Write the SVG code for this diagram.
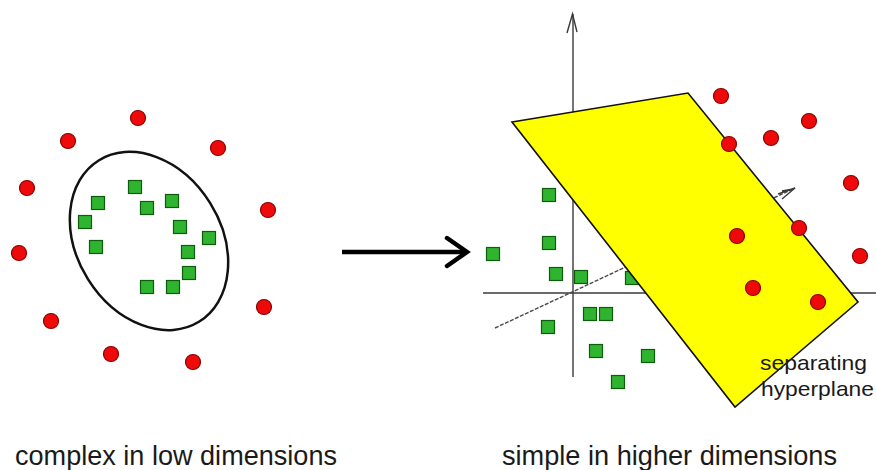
<svg xmlns="http://www.w3.org/2000/svg" xmlns:xlink="http://www.w3.org/1999/xlink" width="876" height="470" viewBox="0 0 876 470">
<style>
.red{fill:#ee0a0a;stroke:#8a0000;stroke-width:1.2}
.grn{fill:#2fb42f;stroke:#0e5c0e;stroke-width:1.2}
.axis{stroke:#3a3a3a;stroke-width:1.4;fill:none}
.lbl{font-family:"Liberation Sans",Arial,sans-serif;fill:#1a1a1a}
</style>
<defs>
<circle id="r" r="7.5" class="red"/>
<rect id="g" x="-6.5" y="-6.5" width="13" height="13" class="grn"/>
</defs>
<rect width="876" height="470" fill="#ffffff"/>

<!-- left panel -->
<g id="left-panel">
<ellipse id="boundary" cx="149" cy="241" rx="72" ry="95" transform="rotate(-32 149 241)" fill="none" stroke="#111" stroke-width="2.5"/>
<g id="left-red">
<use xlink:href="#r" x="138" y="118"/>
<use xlink:href="#r" x="68" y="141"/>
<use xlink:href="#r" x="218" y="148"/>
<use xlink:href="#r" x="27" y="188"/>
<use xlink:href="#r" x="268" y="210"/>
<use xlink:href="#r" x="19" y="253"/>
<use xlink:href="#r" x="264" y="307"/>
<use xlink:href="#r" x="51" y="321"/>
<use xlink:href="#r" x="111" y="354"/>
<use xlink:href="#r" x="193" y="362"/>
</g>
<g id="left-green">
<use xlink:href="#g" x="135" y="187"/>
<use xlink:href="#g" x="98" y="203"/>
<use xlink:href="#g" x="147" y="208"/>
<use xlink:href="#g" x="172" y="201"/>
<use xlink:href="#g" x="85" y="222"/>
<use xlink:href="#g" x="180" y="227"/>
<use xlink:href="#g" x="209" y="238"/>
<use xlink:href="#g" x="96" y="247"/>
<use xlink:href="#g" x="188" y="252"/>
<use xlink:href="#g" x="189" y="273"/>
<use xlink:href="#g" x="147" y="287"/>
<use xlink:href="#g" x="173" y="287"/>
</g>
</g>

<!-- connector -->
<g id="connectors">
<path d="M342 252 H466" stroke="#000" stroke-width="4.5" fill="none"/>
<path d="M447 238 L467 252 L447 266" stroke="#000" stroke-width="4.5" fill="none" stroke-linecap="round" stroke-linejoin="miter"/>
</g>

<!-- right panel -->
<g id="right-panel">
<g id="axes">
<path class="axis" d="M573 377 V14"/>
<path class="axis" d="M567 33 L572.5 14 L577 32"/>
<path class="axis" d="M483 293 H876"/>
<path d="M495 328 L795 188" stroke="#4a4a4a" stroke-width="1.4" stroke-dasharray="4 1.5" fill="none"/>
<path class="axis" d="M778 194 L795 188 L782 199 M782 191 L793 189"/>
</g>
<g id="right-green">
<use xlink:href="#g" x="549" y="195"/>
<use xlink:href="#g" x="549" y="243"/>
<use xlink:href="#g" x="493" y="254"/>
<use xlink:href="#g" x="556" y="274"/>
<use xlink:href="#g" x="581" y="277"/>
<use xlink:href="#g" x="632" y="278"/>
<use xlink:href="#g" x="590" y="314"/>
<use xlink:href="#g" x="606" y="314"/>
<use xlink:href="#g" x="548" y="327"/>
<use xlink:href="#g" x="596" y="351"/>
<use xlink:href="#g" x="648" y="356"/>
<use xlink:href="#g" x="618" y="382"/>
</g>
<g id="hyperplane">
<polygon points="512,122 688,93 858,302 735,407" fill="#ffff00" stroke="#111" stroke-width="1.6" stroke-linejoin="miter"/>
</g>
<g id="right-red">
<use xlink:href="#r" x="721" y="96"/>
<use xlink:href="#r" x="809" y="121"/>
<use xlink:href="#r" x="771" y="138"/>
<use xlink:href="#r" x="729" y="144"/>
<use xlink:href="#r" x="851" y="183"/>
<use xlink:href="#r" x="799" y="228"/>
<use xlink:href="#r" x="737" y="236"/>
<use xlink:href="#r" x="860" y="256"/>
<use xlink:href="#r" x="753" y="288"/>
<use xlink:href="#r" x="818" y="302"/>
</g>
<g id="hyperplane-label">
<text class="lbl" x="760" y="370" font-size="21" textLength="107" lengthAdjust="spacingAndGlyphs">separating</text>
<text class="lbl" x="761" y="396" font-size="21" textLength="113" lengthAdjust="spacingAndGlyphs">hyperplane</text>
</g>
</g>

<g id="captions">
<text class="lbl" x="15" y="465" font-size="28" textLength="322" lengthAdjust="spacingAndGlyphs">complex in low dimensions</text>
<text class="lbl" x="502" y="465" font-size="28" textLength="335" lengthAdjust="spacingAndGlyphs">simple in higher dimensions</text>
</g>
</svg>
